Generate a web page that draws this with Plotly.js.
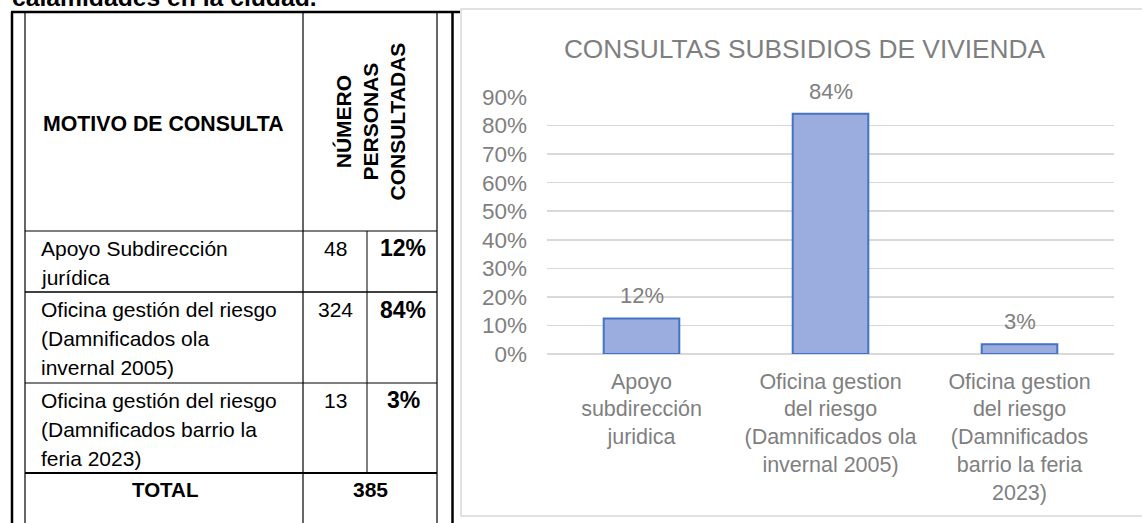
<!DOCTYPE html>
<html>
<head>
<meta charset="utf-8">
<script src="https://cdn.plot.ly/plotly-3.0.1.min.js"></script>
<style>
  html, body { margin: 0; padding: 0; background: #ffffff; overflow: hidden; }
  #chart { width: 1142px; height: 523px; }
</style>
</head>
<body>
<div id="chart"></div>
<script>
// ---------- data ----------
const heading = 'calamidades en la ciudad.';
const chartTitle = 'CONSULTAS SUBSIDIOS DE VIVIENDA';
const categories = [
  'Apoyo<br>subdirección<br>juridica',
  'Oficina gestion<br>del riesgo<br>(Damnificados ola<br>invernal 2005)',
  'Oficina gestion<br>del riesgo<br>(Damnificados<br>barrio la feria<br>2023)'
];
const shares = [0.1247, 0.8416, 0.0338];

const headMotivo = 'MOTIVO DE CONSULTA';
const headNumero = ['NÚMERO', 'PERSONAS', 'CONSULTADAS'];
const motivos = [
  ['Apoyo Subdirección', 'jurídica'],
  ['Oficina gestión del riesgo', '(Damnificados ola', 'invernal 2005)'],
  ['Oficina gestión del riesgo', '(Damnificados barrio la', 'feria 2023)']
];
const counts = [48, 324, 13];
const pcts = ['12%', '84%', '3%'];
const totalLabel = 'TOTAL';
const totalCount = 385;

// ---------- layout helpers ----------
const W = 1142, H = 523;
const X = p => p / W;
const Y = p => 1 - p / H;
const SANS = 'Liberation Sans, Arial, sans-serif';
const GRAY = '#7f7f7f';

const shapes = [];
const annotations = [];

function line(x0, y0, x1, y1, w) {
  shapes.push({type: 'line', xref: 'paper', yref: 'paper',
    x0: X(x0), y0: Y(y0), x1: X(x1), y1: Y(y1),
    line: {color: '#000000', width: w}});
}
function txt(text, x, y, opts) {
  annotations.push(Object.assign({
    xref: 'paper', yref: 'paper', x: X(x), y: Y(y), text: text,
    showarrow: false, xanchor: 'center', yanchor: 'middle',
    font: {family: SANS, size: 21, color: '#000000'}
  }, opts || {}));
}

// table frame
const tTop = 12, tBottom = 523;
const cL = 25, c1 = 303, c2 = 367, cR = 437;
const rowTops = [231, 292, 383, 473];
line(11, tTop, 460, tTop, 2.5);
line(12, tTop, 12, tBottom, 2.5);
line(452.5, tTop, 452.5, tBottom, 2.5);
line(cL, tTop, cL, tBottom, 1.2);
line(cR, tTop, cR, tBottom, 1.2);
line(c1, tTop, c1, tBottom, 1.2);
line(c2, rowTops[0], c2, rowTops[3], 1);
line(cL, rowTops[0], cR, rowTops[0], 1.2);
line(cL, rowTops[1], cR, rowTops[1], 1.6);
line(cL, rowTops[2], cR, rowTops[2], 1.2);
line(cL, rowTops[3], cR, rowTops[3], 2);

// heading (cropped at the top edge)
txt('<b>' + heading + '</b>', 10, 13.3, {xanchor: 'left', yanchor: 'bottom',
  font: {family: SANS, size: 24.7, color: '#000000'}});

// headers
txt('<b>' + headMotivo + '</b>', 163, 124, {font: {family: SANS, size: 21.3, color: '#000'}});
txt('<b>' + headNumero.join('<br>') + '</b>', 370.5, 122, {textangle: -90,
  font: {family: SANS, size: 21, color: '#000'}});

// rows
const firstLine = [248, 309.5, 400];
const lineStep = 29;
motivos.forEach((lines, i) => {
  lines.forEach((l, k) => {
    txt(l, 39, firstLine[i] + k * lineStep, {xanchor: 'left'});
  });
  txt(String(counts[i]), (c1 + c2) / 2, firstLine[i]);
  txt('<b>' + pcts[i] + '</b>', (c2 + cR) / 2 + 1, firstLine[i], {font: {family: SANS, size: 23, color: '#000'}});
});
txt('<b>' + totalLabel + '</b>', 165, 489, {font: {family: SANS, size: 20.5, color: '#000'}});
txt('<b>' + totalCount + '</b>', 370.5, 489, {font: {family: SANS, size: 21, color: '#000'}});

// chart frame
shapes.push({type: 'rect', xref: 'paper', yref: 'paper', layer: 'below',
  x0: X(461), x1: X(1152), y0: Y(516), y1: Y(9),
  line: {color: '#d9d9d9', width: 1.5}, fillcolor: 'rgba(0,0,0,0)'});

// data labels
categories.forEach((c, i) => {
  annotations.push({xref: 'x', yref: 'y', x: c, y: shares[i],
    text: Math.round(shares[i] * 100) + '%', showarrow: false,
    xanchor: 'center', yanchor: 'bottom', yshift: 8,
    font: {family: SANS, size: 22, color: GRAY}});
});

const trace = {
  type: 'bar', x: categories, y: shares, width: 0.4,
  marker: {color: '#9badde', line: {color: '#4472c4', width: 2}},
  hoverinfo: 'skip'
};

const layout = {
  width: W, height: H,
  margin: {l: 0, r: 0, t: 0, b: 0},
  paper_bgcolor: '#ffffff', plot_bgcolor: 'rgba(0,0,0,0)',
  showlegend: false,
  title: {text: chartTitle, x: X(804.5), xanchor: 'center', y: Y(49), yanchor: 'middle',
    font: {family: SANS, size: 26.3, color: GRAY}},
  xaxis: {domain: [X(547), X(1114)], type: 'category', ticks: '', showgrid: false,
    zeroline: false, showline: false, tickangle: 0, automargin: false,
    ticklabelstandoff: 12,
    tickfont: {family: SANS, size: 21.5, color: GRAY}},
  yaxis: {domain: [Y(354), Y(97)], range: [0, 0.9], dtick: 0.1, tickformat: '.0%',
    ticks: '', showline: false, gridcolor: '#d9d9d9', gridwidth: 1.5,
    zeroline: true, zerolinecolor: '#d9d9d9', zerolinewidth: 2, automargin: false,
    ticklabelstandoff: 19,
    tickfont: {family: SANS, size: 22.5, color: GRAY}},
  shapes: shapes,
  annotations: annotations
};

Plotly.newPlot('chart', [trace], layout, {staticPlot: true, displayModeBar: false});
</script>
</body>
</html>
